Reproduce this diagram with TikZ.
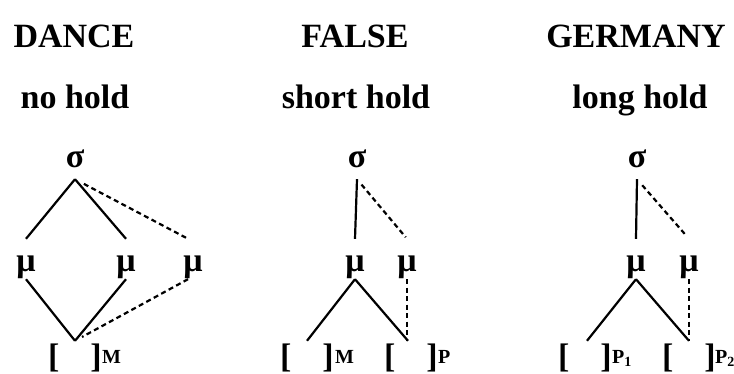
\documentclass[tikz,border=0pt]{standalone}
\usepackage{fontspec}
\setmainfont{Liberation Serif}
\begin{document}
\begin{tikzpicture}[x=1pt,y=-1pt,
  every node/.style={inner sep=0pt, font=\fontsize{34}{36}\selectfont\bfseries},
  ttl/.style={anchor=base},
  sig/.style={anchor=base, text height=15pt, text depth=12pt},
  mu/.style={anchor=base, text height=32pt, text depth=8pt},
  brk/.style={anchor=base, text height=26pt, text depth=8pt},
  sub/.style={anchor=base west, font=\fontsize{20}{22}\selectfont\bfseries},
  tie/.style={line width=2.2pt},
  dsh/.style={line width=2.2pt, dash pattern=on 5pt off 3.5pt}]
\fill[white] (0,0) rectangle (734,373);
\clip (0,0) rectangle (734,373);
% DANCE
\node[ttl] (t1) at (74,47) {DANCE};
\node[ttl] (h1) at (75,108) {no hold};
\node[sig] (s1) at (75,167) {σ};
\node[mu] (a1) at (26,271) {μ};
\node[mu] (a2) at (126,271) {μ};
\node[mu] (a3) at (193,271) {μ};
\node[brk] (b1) at (75,367) {[\hspace{31pt}]};
\node[sub] (c1) at (102,363) {M};
\draw[tie] (s1.south) -- (a1.north);
\draw[tie] (s1.south) -- (a2.north);
\draw[dsh, shorten <=10pt] (s1.south) -- ([xshift=-5pt]a3.north);
\draw[tie] (a1.south) -- (b1.north);
\draw[tie] (a2.south) -- (b1.north);
\draw[dsh, shorten >=8pt] ([xshift=-5pt]a3.south) -- (b1.north);
% FALSE
\node[ttl] (t2) at (355,47) {FALSE};
\node[ttl] (h2) at (356,108) {short hold};
\node[sig] (s2) at (357,167) {σ};
\node[mu] (a4) at (355,271) {μ};
\node[mu] (a5) at (407,271) {μ};
\node[brk] (b2) at (307,367) {[\hspace{31pt}]};
\node[sub] (c2) at (335,363) {M};
\node[brk] (b3) at (411,367) {[\hspace{31pt}]};
\node[sub] (c3) at (438,363) {P};
\draw[tie] (s2.south) -- (a4.north);
\draw[dsh, shorten <=7pt, shorten >=2pt] (s2.south) -- (a5.north);
\draw[tie] (a4.south) -- (b2.north);
\draw[tie] (a4.south) -- ([xshift=-3pt]b3.north);
\draw[dsh] (a5.south) -- (a5.south |- b3.north);
% GERMANY
\node[ttl] (t3) at (636,47) {GERMANY};
\node[ttl] (h3) at (640,108) {long hold};
\node[sig] (s3) at (637,167) {σ};
\node[mu] (a6) at (636,271) {μ};
\node[mu] (a7) at (689,271) {μ};
\node[brk] (b4) at (585,367) {[\hspace{31pt}]};
\node[sub] (c4) at (612,363) {P\textsubscript{1}};
\node[brk] (b5) at (689,367) {[\hspace{31pt}]};
\node[sub] (c5) at (715,363) {P\textsubscript{2}};
\draw[tie] (s3.south) -- (a6.north);
\draw[dsh, shorten <=8pt, shorten >=4pt] (s3.south) -- (a7.north);
\draw[tie] (a6.south) -- ([xshift=2pt]b4.north);
\draw[tie] (a6.south) -- (b5.north);
\draw[dsh] (a7.south) -- (a7.south |- b5.north);
\end{tikzpicture}
\end{document}
